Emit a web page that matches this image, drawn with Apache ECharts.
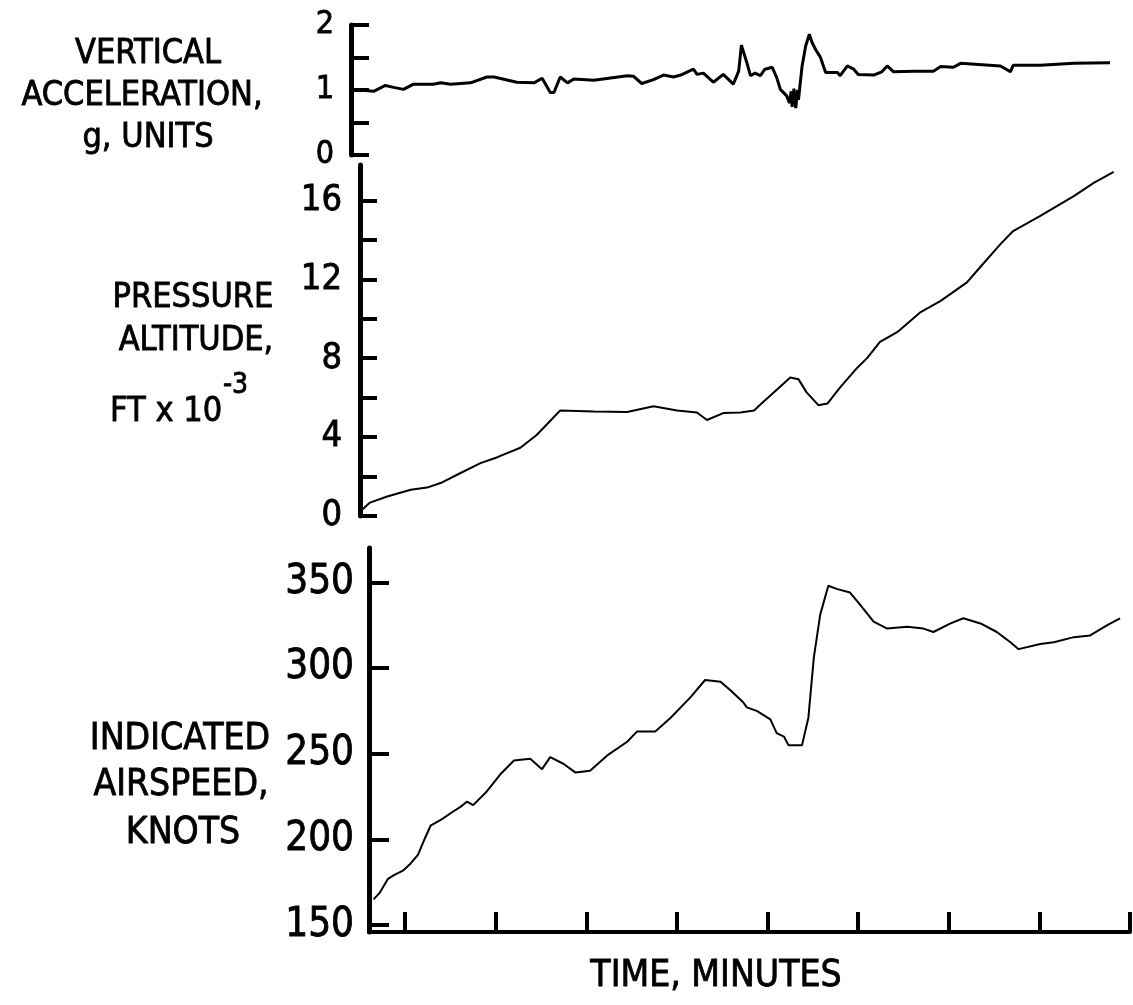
<!DOCTYPE html>
<html>
<head>
<meta charset="utf-8">
<title>Vertical acceleration, pressure altitude and indicated airspeed</title>
<script src="https://cdn.jsdelivr.net/npm/echarts@6/dist/echarts.min.js"></script>
<style>
    html, body { margin: 0; padding: 0; background: #fff; }
    #main { width: 1133px; height: 1005px; }
</style>
</head>
<body>
<div id="main"></div>
<script>
// time in minutes (x)
const accelTime = [0.42, 0.5, 0.65, 0.78, 0.87, 0.98, 1.09, 1.31, 1.39, 1.5, 1.72, 1.9, 1.98, 2.23, 2.42, 2.51, 2.6, 2.64, 2.71, 2.79,
    2.86, 3.08, 3.45, 3.52, 3.61, 3.74, 3.85, 3.96, 4.04, 4.18, 4.22, 4.29, 4.4, 4.51, 4.62, 4.68, 4.71, 4.77, 4.81, 4.86,
    4.92, 4.97, 5.05, 5.1, 5.14, 5.21, 5.24, 5.26, 5.27, 5.29, 5.31, 5.33, 5.34, 5.38, 5.42, 5.46, 5.49, 5.53, 5.58, 5.64,
    5.77, 5.8, 5.88, 5.95, 6.0, 6.17, 6.26, 6.32, 6.39, 6.61, 6.83, 6.91, 7.05, 7.13, 7.57, 7.68, 7.71, 8.01, 8.38, 8.78];
// vertical acceleration, g units
const accelG = [1.0, 1.0, 0.98, 1.07, 1.04, 1.01, 1.09, 1.09, 1.11, 1.09, 1.11, 1.2, 1.2, 1.12, 1.11, 1.18, 0.96, 0.96, 1.2, 1.11,
    1.17, 1.15, 1.22, 1.21, 1.1, 1.16, 1.23, 1.2, 1.23, 1.32, 1.24, 1.26, 1.12, 1.24, 1.09, 1.29, 1.69, 1.42, 1.22, 1.26,
    1.22, 1.32, 1.35, 1.19, 1.01, 0.91, 0.8, 0.98, 0.74, 1.02, 0.72, 1.0, 0.85, 1.37, 1.68, 1.86, 1.73, 1.62, 1.51, 1.27,
    1.27, 1.22, 1.37, 1.32, 1.24, 1.23, 1.28, 1.37, 1.28, 1.29, 1.29, 1.36, 1.35, 1.41, 1.37, 1.28, 1.38, 1.38, 1.41, 1.42];

const altTime = [0.52, 0.61, 0.8, 1.06, 1.24, 1.39, 1.61, 1.83, 2.01, 2.27, 2.45, 2.71, 3.08, 3.45, 3.74, 4.0, 4.22, 4.33, 4.51, 4.7,
    4.85, 4.92, 5.07, 5.25, 5.34, 5.43, 5.56, 5.66, 5.8, 5.99, 6.1, 6.24, 6.43, 6.68, 6.91, 7.2, 7.35, 7.57, 7.71, 8.01,
    8.38, 8.6, 8.82];
// pressure altitude, ft x 10^-3
const altKft = [0.3, 0.68, 0.99, 1.33, 1.44, 1.67, 2.18, 2.68, 2.97, 3.46, 4.11, 5.35, 5.3, 5.27, 5.57, 5.35, 5.25, 4.87, 5.22, 5.25,
    5.35, 5.65, 6.27, 7.02, 6.94, 6.27, 5.62, 5.7, 6.52, 7.52, 8.02, 8.83, 9.32, 10.31, 10.91, 11.85, 12.64, 13.79, 14.45, 15.22,
    16.22, 16.89, 17.45];

const speedTime = [0.65, 0.72, 0.81, 0.87, 0.98, 1.06, 1.14, 1.22, 1.28, 1.41, 1.52, 1.61, 1.68, 1.75, 1.9, 2.05, 2.2, 2.38, 2.51, 2.6,
    2.75, 2.88, 3.04, 3.23, 3.45, 3.56, 3.76, 3.93, 4.15, 4.31, 4.48, 4.59, 4.73, 4.77, 4.88, 5.03, 5.1, 5.18, 5.23, 5.38,
    5.45, 5.51, 5.58, 5.67, 5.77, 5.91, 6.02, 6.17, 6.32, 6.54, 6.72, 6.83, 7.02, 7.16, 7.35, 7.53, 7.68, 7.77, 8.01, 8.16,
    8.38, 8.56, 8.75, 8.89];
// indicated airspeed, knots
const speedKt = [165, 169, 177, 179, 182, 186, 191, 201, 208, 212, 216, 219, 222, 220, 228, 238, 246, 247, 241, 248,
    244, 239, 240, 249, 257, 263, 263, 271, 283, 293, 292, 287, 280, 277, 275, 270, 262, 260, 255, 255,
    271, 306, 331, 348, 346, 344, 337, 327, 323, 324, 323, 321, 326, 329, 326, 321, 315, 311, 314, 315,
    318, 319, 325, 329];

// axis ticks and labels
const timeTicks = [1, 2, 3, 4, 5, 6, 7, 8, 9];
const accelTicks = [0, 0.5, 1, 1.5, 2];
const accelLabels = [0, 1, 2];
const altTicks = [0, 2, 4, 6, 8, 10, 12, 14, 16];
const altLabels = [0, 4, 8, 12, 16];
const speedTicks = [150, 200, 250, 300, 350];
const speedLabels = [150, 200, 250, 300, 350];

const zip = (xs, ys) => xs.map((x, i) => [x, ys[i]]);

const condFont = '"DejaVu Sans Condensed", "Liberation Sans Narrow", sans-serif';

function valueAxis(grid, min, max, ticks, labels, opts) {
    return {
        type: 'value',
        gridIndex: grid,
        min: min,
        max: max,
        axisLine: {show: true, onZero: false, lineStyle: {color: '#000', width: 5}},
        axisTick: {show: true, inside: true, customValues: ticks, length: opts.tickLen, lineStyle: {color: '#000', width: 4}},
        axisLabel: {
            show: true, customValues: labels, margin: opts.margin, color: '#000',
            fontSize: opts.fontSize, fontFamily: condFont,
            textBorderColor: '#000', textBorderWidth: 0.8
        },
        splitLine: {show: false}
    };
}

function timeAxis(grid, min, visible) {
    return {
        type: 'value',
        gridIndex: grid,
        min: min,
        max: 9,
        show: visible,
        axisLine: {show: visible, onZero: false, lineStyle: {color: '#000', width: 4}},
        axisTick: {show: visible, inside: true, customValues: timeTicks, length: 20, lineStyle: {color: '#000', width: 4}},
        axisLabel: {show: false},
        splitLine: {show: false}
    };
}

function label(text, x, y, size, align) {
    return {
        type: 'text',
        x: x,
        y: y,
        style: {
            text: text,
            font: 'normal ' + size + 'px ' + condFont,
            fill: '#000',
            stroke: '#000',
            lineWidth: 0.8,
            align: align || 'center',
            textAlign: align || 'center',
            verticalAlign: 'middle',
            textVerticalAlign: 'middle'
        }
    };
}

const chart = echarts.init(document.getElementById('main'), null, {renderer: 'canvas'});

chart.setOption({
    animation: false,
    backgroundColor: '#fff',
    grid: [
        {left: 351, right: 3, top: 25, height: 130},
        {left: 360, right: 3, top: 165, height: 351},
        {left: 369, right: 3, top: 548, height: 384}
    ],
    xAxis: [
        timeAxis(0, 0.4, false),
        timeAxis(1, 0.5, false),
        timeAxis(2, 0.6, true)
    ],
    yAxis: [
        valueAxis(0, 0, 2, accelTicks, accelLabels, {tickLen: 18, margin: 17, fontSize: 32}),
        valueAxis(1, 0, 17.8, altTicks, altLabels, {tickLen: 17, margin: 18, fontSize: 36}),
        valueAxis(2, 146, 370, speedTicks, speedLabels, {tickLen: 20, margin: 15, fontSize: 40})
    ],
    graphic: [
        label('VERTICAL', 148, 54, 34),
        label('ACCELERATION,', 142, 96, 34),
        label('g, UNITS', 148, 138, 34),
        label('PRESSURE', 193, 298, 34),
        label('ALTITUDE,', 196, 341, 34),
        label('FT x 10', 110, 412, 34, 'left'),
        label('-3', 223, 386, 28, 'left'),
        label('INDICATED', 180, 739, 37),
        label('AIRSPEED,', 181, 785, 37),
        label('KNOTS', 183, 833, 37),
        label('TIME, MINUTES', 716, 976, 37)
    ],
    series: [
        {
            name: 'Vertical acceleration',
            type: 'line',
            xAxisIndex: 0,
            yAxisIndex: 0,
            showSymbol: false,
            lineStyle: {color: '#000', width: 3},
            data: zip(accelTime, accelG)
        },
        {
            name: 'Pressure altitude',
            type: 'line',
            xAxisIndex: 1,
            yAxisIndex: 1,
            showSymbol: false,
            lineStyle: {color: '#000', width: 2},
            data: zip(altTime, altKft)
        },
        {
            name: 'Indicated airspeed',
            type: 'line',
            xAxisIndex: 2,
            yAxisIndex: 2,
            showSymbol: false,
            lineStyle: {color: '#000', width: 2},
            data: zip(speedTime, speedKt)
        }
    ]
});
</script>
</body>
</html>
